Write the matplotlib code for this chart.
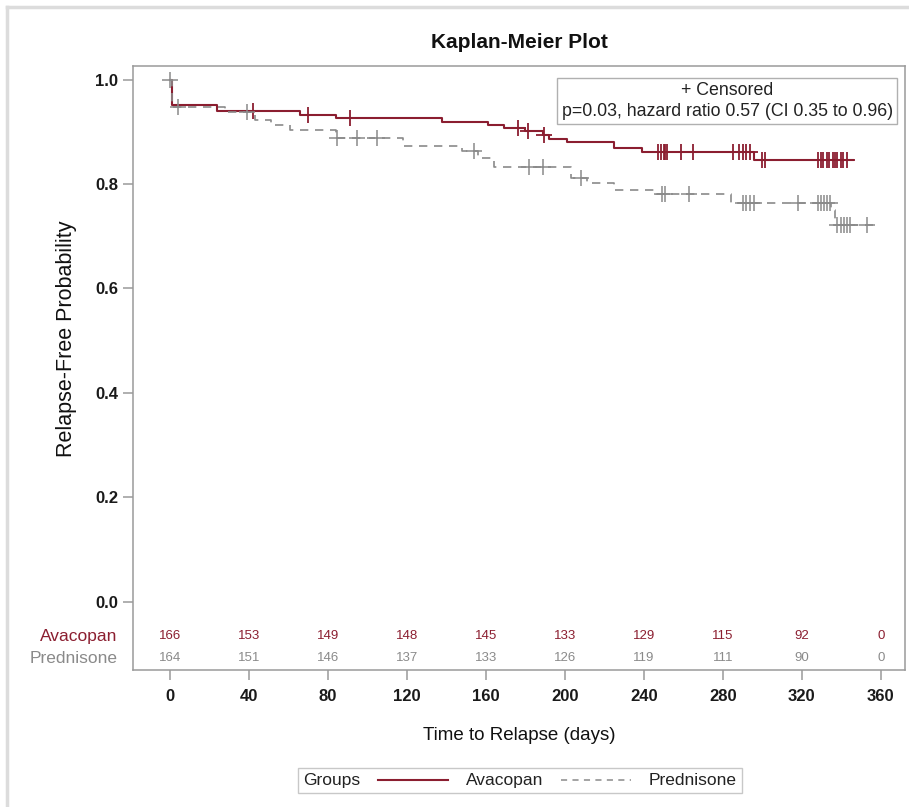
import numpy as np
import matplotlib
matplotlib.use("Agg")
import matplotlib.pyplot as plt
from matplotlib.lines import Line2D
from matplotlib.offsetbox import AnchoredOffsetbox, HPacker, TextArea, DrawingArea

plt.rcParams['font.family'] = ['Liberation Sans', 'DejaVu Sans']

# --- data ---
avac_times = [0, 1, 24, 66, 84, 138, 161, 169, 180, 189, 192, 201, 225, 239, 296]
avac_surv = [1.0, 0.952, 0.940, 0.933, 0.926, 0.919, 0.913, 0.907, 0.902, 0.894,
             0.886, 0.881, 0.868, 0.862, 0.846]
avac_end = 346
avac_cens = [42, 70, 91, 176.5, 181.5, 189.5, 247, 248.5, 250, 251, 252, 259, 265,
             285, 288, 290, 292, 294, 300, 301.5, 328, 330, 331, 333, 334, 336, 337,
             338, 340, 341, 343]

pred_times = [0, 1, 28, 43, 51, 61, 84, 118, 148, 156, 164, 203, 211, 225, 246, 284, 335, 337]
pred_surv = [1.0, 0.948, 0.938, 0.922, 0.913, 0.903, 0.889, 0.873, 0.864, 0.849, 0.833,
             0.811, 0.801, 0.788, 0.780, 0.764, 0.750, 0.721]
pred_end = 356
pred_cens = [0, 4, 39, 84.5, 95, 105, 154, 182, 189, 208, 249, 251, 263, 290, 292, 294,
             296, 318, 328, 330, 331.5, 333, 334.5, 338, 340, 341.5, 343, 344.5, 353]

risk_times = [0, 40, 80, 120, 160, 200, 240, 280, 320, 360]
avac_risk = [166, 153, 149, 148, 145, 133, 129, 115, 92, 0]
pred_risk = [164, 151, 146, 137, 133, 126, 119, 111, 90, 0]

RED = '#8b1e30'
GRAY = '#8a8a8a'
AX = '#9a9a9a'


def surv_at(times, surv, t):
    i = np.searchsorted(times, t, side='right') - 1
    return np.array(surv)[i]


fig = plt.figure(figsize=(9.09, 8.07), dpi=100)
ax = fig.add_axes([0.1463, 0.1698, 0.8493, 0.7484])

# outer frame (top + left only)
fig.add_artist(Line2D([0.008, 1.0], [0.991, 0.991], transform=fig.transFigure, color='#dcdcdc', lw=2.5))
fig.add_artist(Line2D([0.008, 0.008], [0.0, 0.991], transform=fig.transFigure, color='#dcdcdc', lw=2.5))

# curves
ax.step(avac_times + [avac_end], avac_surv + [avac_surv[-1]], where='post', color=RED, lw=1.5)
ax.step(pred_times + [pred_end], pred_surv + [pred_surv[-1]], where='post', color=GRAY, lw=1.2,
        ls=(0, (5, 4)))
ax.plot(avac_cens, surv_at(avac_times, avac_surv, avac_cens), ls='none', marker='+',
        ms=11, mew=1.3, color=RED)
ax.plot(pred_cens, surv_at(pred_times, pred_surv, pred_cens), ls='none', marker='+',
        ms=12, mew=1.1, color=GRAY)

ax.set_xlim(-18.7, 372.3)
ax.set_ylim(-0.131, 1.026)
ax.set_xticks(risk_times)
ax.set_yticks([0.0, 0.2, 0.4, 0.6, 0.8, 1.0])
ax.set_yticklabels(['0.0', '0.2', '0.4', '0.6', '0.8', '1.0'])
ax.tick_params(axis='both', colors=AX, labelcolor='#1a1a1a', labelsize=12, length=7, width=1.1)
ax.tick_params(axis='x', pad=7)
for lab in ax.get_xticklabels() + ax.get_yticklabels():
    lab.set_fontweight('bold')
for s in ax.spines.values():
    s.set_color(AX)
    s.set_linewidth(1.1)

ax.set_title('Kaplan-Meier Plot', fontsize=15, fontweight='bold', color='#111111', pad=13)
ax.set_xlabel('Time to Relapse (days)', fontsize=13.5, color='#111111', labelpad=16)
ax.set_ylabel('Relapse-Free Probability', fontsize=15.5, color='#111111')
ax.yaxis.set_label_coords(-0.073, 0.549)

# at-risk table
for t, a, p in zip(risk_times, avac_risk, pred_risk):
    ax.text(t, -0.066, str(a), color=RED, fontsize=9.5, ha='center', va='center')
    ax.text(t, -0.109, str(p), color=GRAY, fontsize=9.5, ha='center', va='center')
ax.text(-0.02, -0.066, 'Avacopan', color=RED, fontsize=12.5, ha='right', va='center',
        transform=ax.get_yaxis_transform())
ax.text(-0.02, -0.109, 'Prednisone', color=GRAY, fontsize=12.5, ha='right', va='center',
        transform=ax.get_yaxis_transform())

# inset box
ax.text(0.77, 0.942, '+ Censored\np=0.03, hazard ratio 0.57 (CI 0.35 to 0.96)',
        transform=ax.transAxes, ha='center', va='center', fontsize=12.8, color='#222222',
        multialignment='center', linespacing=1.3,
        bbox=dict(boxstyle='square,pad=0.25', fc='white', ec='#b0b0b0', lw=1))


# bottom legend
def sample(color, ls, lw):
    da = DrawingArea(50, 10, 0, 0)
    da.add_artist(Line2D([0, 50], [5, 5], color=color, ls=ls, lw=lw))
    return da


tp = dict(fontsize=12.5, color='#222222')
row = HPacker(children=[TextArea('Groups', textprops=tp), sample(RED, '-', 1.5),
                        TextArea('Avacopan', textprops=tp), sample(GRAY, (0, (4, 3.5)), 1.1),
                        TextArea('Prednisone', textprops=tp)],
              sep=13, align='center', pad=0)
leg = AnchoredOffsetbox(loc='center', child=row, pad=0.35, borderpad=0, frameon=True,
                        bbox_to_anchor=(0.572, 0.033), bbox_transform=fig.transFigure)
leg.patch.set_edgecolor('#c8c8c8')
leg.patch.set_linewidth(1)
fig.add_artist(leg)

fig.savefig('out.png', dpi=100)
